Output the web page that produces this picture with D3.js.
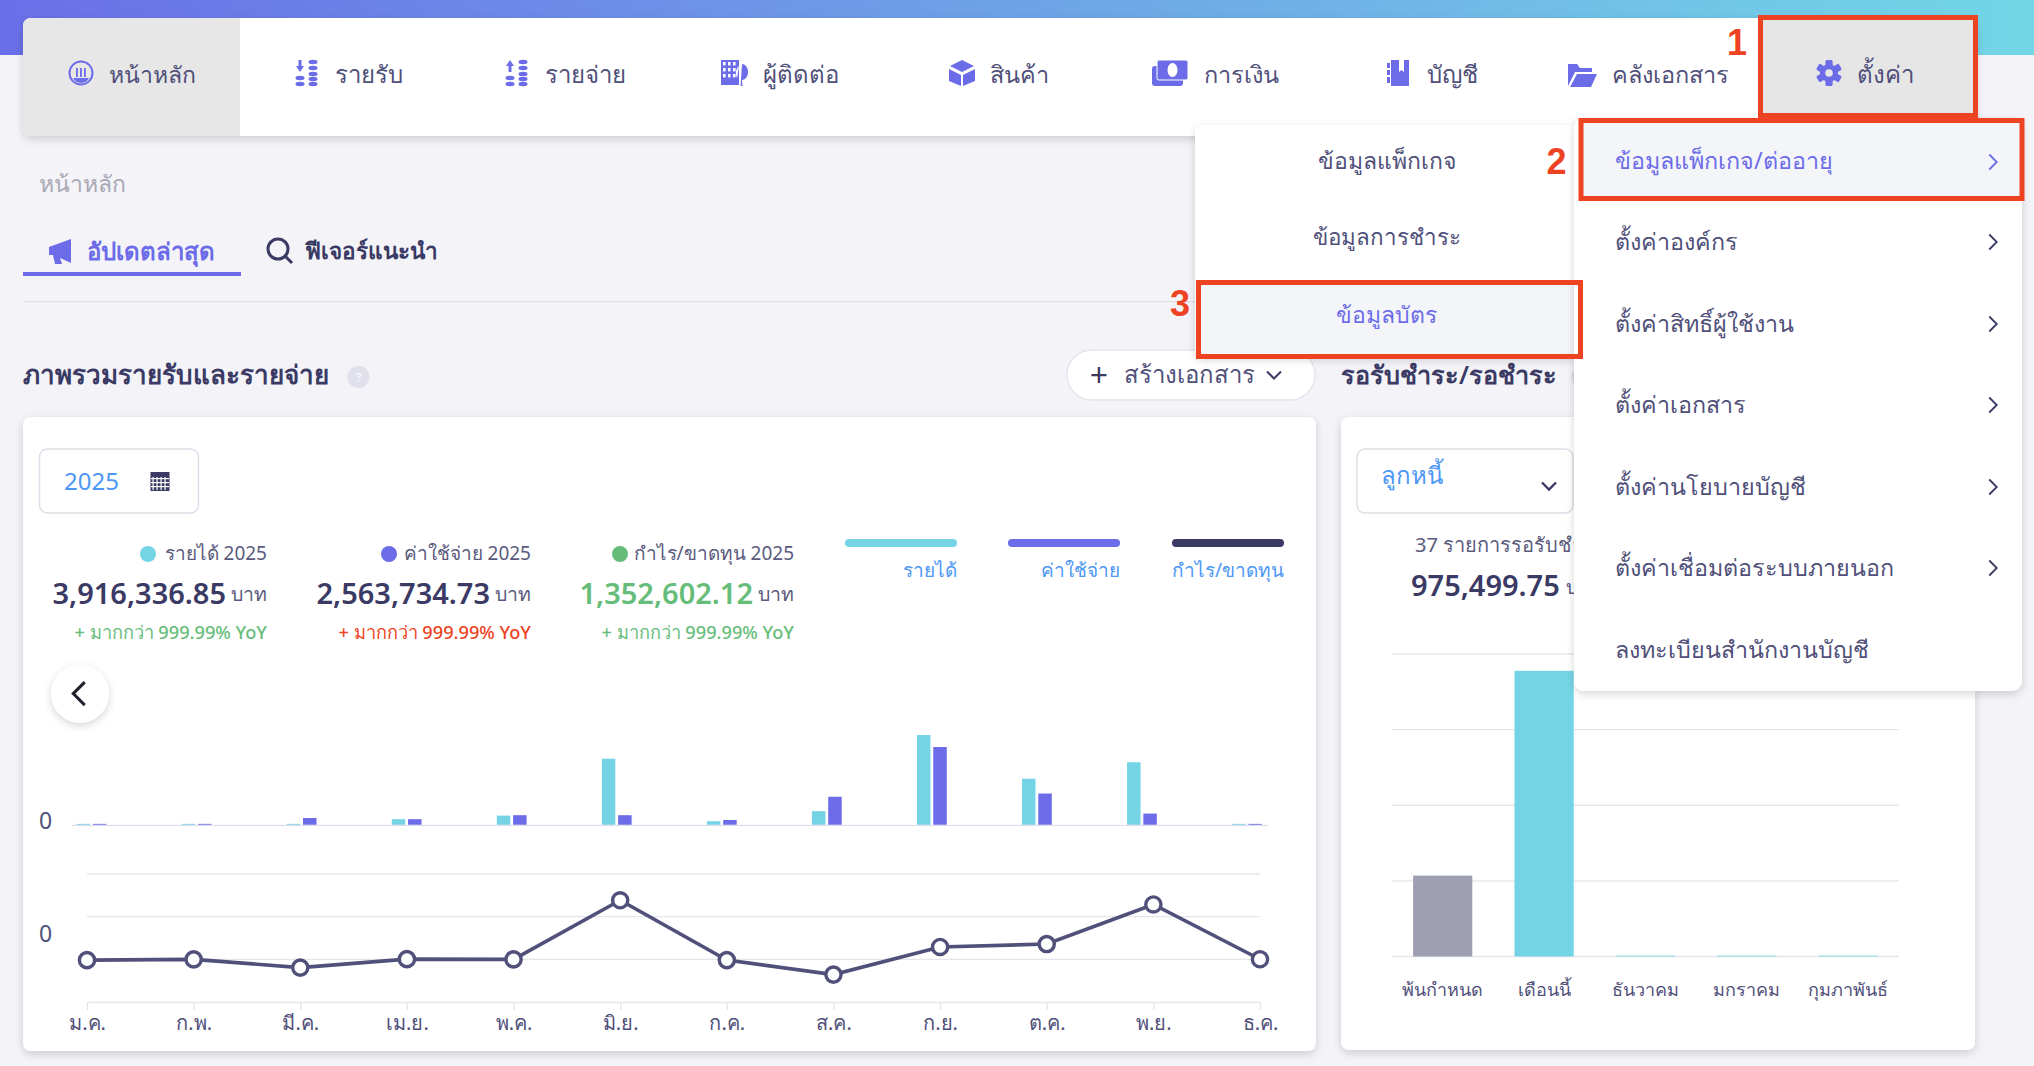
<!DOCTYPE html>
<html>
<head>
<meta charset="utf-8">
<script src="https://cdn.jsdelivr.net/npm/d3@7"></script>
<style>
  body { margin: 0; background: #f3f3f8; }
  text { font-family: "Noto Sans", sans-serif; dominant-baseline: central; }
  .tickline line, .tickline path { stroke: #e6e6ea; stroke-width: 1.4; }
</style>
</head>
<body>
<div id="page"></div>
<script>
// chart values (baht)
const months = ["ม.ค.", "ก.พ.", "มี.ค.", "เม.ย.", "พ.ค.", "มิ.ย.", "ก.ค.", "ส.ค.", "ก.ย.", "ต.ค.", "พ.ย.", "ธ.ค."];
const income = [27000, 27000, 27000, 85000, 130000, 840000, 60000, 185000, 1135000, 590000, 795000, 27000];
const expense = [27000, 27000, 100000, 85000, 135000, 135000, 75000, 365000, 985000, 405000, 155000, 27000];
const profit = [-9700, 0, -97000, 2000, -1000, 692000, -9000, -179000, 145000, 179000, 643000, 1000];
const profitTicks = [0, 500000, 1000000];

const agingLabels = ["พ้นกำหนด", "เดือนนี้", "ธันวาคม", "มกราคม", "กุมภาพันธ์"];
const agingValues = [214000, 755500, 2000, 2000, 2000];
const agingTicks = [0, 200000, 400000, 600000, 800000];

const navLabels = ["หน้าหลัก", "รายรับ", "รายจ่าย", "ผู้ติดต่อ", "สินค้า", "การเงิน", "บัญชี", "คลังเอกสาร", "ตั้งค่า"];
const navTextX = [109, 335, 545, 763, 990, 1204, 1427, 1612, 1857];
const navTextSize = [23, 24, 24, 24, 23.5, 23.5, 24, 23.5, 24];
const menuLeft = ["ข้อมูลแพ็กเกจ", "ข้อมูลการชำระ", "ข้อมูลบัตร"];
const menuRight = ["ข้อมูลแพ็กเกจ/ต่ออายุ", "ตั้งค่าองค์กร", "ตั้งค่าสิทธิ์ผู้ใช้งาน", "ตั้งค่าเอกสาร", "ตั้งค่านโยบายบัญชี", "ตั้งค่าเชื่อมต่อระบบภายนอก", "ลงทะเบียนสำนักงานบัญชี"];
const kpiLabels = ["รายได้ 2025", "ค่าใช้จ่าย 2025", "กำไร/ขาดทุน 2025"];
const kpiValues = ["3,916,336.85", "2,563,734.73", "1,352,602.12"];
const legendLabels = ["รายได้", "ค่าใช้จ่าย", "กำไร/ขาดทุน"];

const CYAN = "#74d4e6", PURPLE = "#6c6ce8", NAVY = "#3a3a64", SLATE = "#50507a",
      GREEN = "#66bd7a", RED = "#ee4323", BLUE = "#4d97f5";

let svg = d3.select("#page").append("svg")
    .attr("width", 2034).attr("height", 1066)
    .style("display", "block");

let defs = svg.append("defs");
let grad = defs.append("linearGradient").attr("id", "topGrad");
grad.append("stop").attr("offset", "0%").attr("stop-color", "#6a6fe8");
grad.append("stop").attr("offset", "100%").attr("stop-color", "#72d6e6");
let shadow = defs.append("filter").attr("id", "shadow")
    .attr("x", "-10%").attr("y", "-10%").attr("width", "120%").attr("height", "125%");
shadow.append("feDropShadow").attr("dx", 0).attr("dy", 3).attr("stdDeviation", 4)
    .attr("flood-color", "#000").attr("flood-opacity", 0.16);

function label(parent, x, y, str, size, color, weight, anchor) {
  return parent.append("text")
      .attr("x", x).attr("y", y)
      .attr("font-size", size)
      .attr("fill", color)
      .attr("font-weight", weight || 400)
      .attr("text-anchor", anchor || "start")
      .text(str);
}

function box(parent, x, y, w, h, r, fill) {
  return parent.append("rect")
      .attr("x", x).attr("y", y).attr("width", w).attr("height", h)
      .attr("rx", r).attr("fill", fill);
}

function chevron(parent, x, y, dir, size, color, width) {
  let d = {
    right: `M${x - size / 2},${y - size} L${x + size / 2},${y} L${x - size / 2},${y + size}`,
    left: `M${x + size / 2},${y - size} L${x - size / 2},${y} L${x + size / 2},${y + size}`,
    down: `M${x - size},${y - size / 2} L${x},${y + size / 2} L${x + size},${y - size / 2}`
  }[dir];
  parent.append("path").attr("d", d).attr("fill", "none")
      .attr("stroke", color).attr("stroke-width", width);
}

// background + nav bar
box(svg, 0, 0, 2034, 55, 0, "url(#topGrad)");
box(svg, 23, 18, 1953, 118, 8, "#fff").attr("filter", "url(#shadow)");
svg.append("path").attr("d", "M240,18 H31 A8,8 0 0 0 23,26 V128 A8,8 0 0 0 31,136 H240 Z").attr("fill", "#e7e7e7");
box(svg, 1762, 20, 212, 96, 0, "#e6e6e6");

navLabels.forEach(function(d, i) {
  label(svg, navTextX[i], 73.5, d, navTextSize[i], "#50507a");
});

// nav icons, rough drawings of the originals
let navIcons = svg.append("g").attr("fill", PURPLE);
function stackIcon(cx, up) {
  let g = navIcons.append("g").attr("transform", `translate(${cx},73)`);
  [[-7, 5], [-7, 11], [6, -11], [6, -5], [6, 1], [6, 6], [6, 11]].forEach(function(p) {
    g.append("ellipse").attr("cx", p[0]).attr("cy", p[1]).attr("rx", 4.5).attr("ry", 2.2);
  });
  g.append("path").attr("d", up ? "M-7,-13 L-11,-7 H-8.5 V-1 H-5.5 V-7 H-3 Z" : "M-7,-1 L-11,-7 H-8.5 V-13 H-5.5 V-7 H-3 Z");
}
let homeIcon = navIcons.append("g").attr("transform", "translate(81,73)");
homeIcon.append("circle").attr("r", 11.5).attr("fill", "none").attr("stroke", PURPLE).attr("stroke-width", 2);
homeIcon.append("path").attr("d", "M-8,5 A9,9 0 0 0 8,5 Z");
homeIcon.selectAll("rect").data([-5, -1, 3]).enter().append("rect")
    .attr("x", d => d).attr("y", -5).attr("width", 1.8).attr("height", 9);
stackIcon(307, false);
stackIcon(517, true);
let contactIcon = navIcons.append("g").attr("transform", "translate(734,73)");
contactIcon.append("path").attr("d", "M-13,-13 H5 V12 H-13 Z M8,-9 A6,8 0 0 1 8,7 L8.5,13 H6.5 L7,7 Z M5,-7 A6,8 0 0 0 3,5 Z");
d3.range(3).forEach(function(r) {
  d3.range(3).forEach(function(c) {
    contactIcon.append("rect").attr("x", -11 + c * 5).attr("y", -11 + r * 6)
        .attr("width", 2.6).attr("height", 3.4).attr("fill", "#fff");
  });
});
navIcons.append("path").attr("transform", "translate(962,73)")
    .attr("d", "M0,-13 L12,-7 L0,-1 L-12,-7 Z M-13,-4 L-1,2 V13 L-13,8 Z M13,-4 L1,2 V13 L13,8 Z");
let moneyIcon = navIcons.append("g").attr("transform", "translate(1170,73)");
moneyIcon.append("rect").attr("x", -18).attr("y", -7).attr("width", 31).attr("height", 20).attr("rx", 3);
moneyIcon.append("rect").attr("x", -13).attr("y", -13).attr("width", 31).attr("height", 20).attr("rx", 2).attr("stroke", "#fff");
moneyIcon.append("ellipse").attr("cx", 2.5).attr("cy", -3).attr("rx", 5).attr("ry", 7).attr("fill", "#fff");
let bookIcon = navIcons.append("g").attr("transform", "translate(1398,73)");
bookIcon.append("path").attr("d", "M-7,-13 H11 V13 H-7 Z M-11,-10 H-8 V-5 H-11 Z M-11,-3 H-8 V2 H-11 Z M-11,4 H-8 V10 H-11 Z");
bookIcon.append("path").attr("d", "M1,-13 H6 V-1 L3.5,-3 L1,-1 Z").attr("fill", "#fff");
navIcons.append("path").attr("transform", "translate(1582,75)")
    .attr("d", "M-14,-11 H-5 L-2,-7 H10 V-3 H-7 L-14,11 Z M-5,-1 H15 L9,12 H-12 Z");
let gear = navIcons.append("g").attr("transform", "translate(1829,73)");
[0, 60, 120].forEach(function(a) {
  gear.append("rect").attr("x", -3.6).attr("y", -13).attr("width", 7.2).attr("height", 26)
      .attr("rx", 1.5).attr("transform", `rotate(${a})`);
});
gear.append("circle").attr("r", 9);
gear.append("circle").attr("r", 3.8).attr("fill", "#e6e6e6");

// breadcrumb + tabs
label(svg, 39, 182.5, "หน้าหลัก", 23, "#a9a9b5");
label(svg, 87, 250, "อัปเดตล่าสุด", 24, PURPLE, 600);
label(svg, 305, 250, "ฟีเจอร์แนะนำ", 22.5, NAVY, 600);
svg.append("path").attr("transform", "translate(61,251)")
    .attr("d", "M-12,-4 L10,-12 V12 L-1,7 L1,13 H-6 L-8,4 H-12 Z").attr("fill", PURPLE);
let searchIcon = svg.append("g").attr("transform", "translate(279,250)").attr("fill", "none").attr("stroke", NAVY).attr("stroke-width", 3);
searchIcon.append("circle").attr("cx", -1).attr("cy", -1).attr("r", 10);
searchIcon.append("path").attr("d", "M6,6 L13,13");
box(svg, 23, 272, 218, 4, 0, PURPLE);
box(svg, 23, 301, 1953, 1.4, 0, "#e0e0e6");

// section titles
label(svg, 23, 373.5, "ภาพรวมรายรับและรายจ่าย", 26, NAVY, 600);
svg.append("ellipse").attr("cx", 358.5).attr("cy", 377).attr("rx", 11).attr("ry", 11).attr("fill", "#dfe0ea");
label(svg, 358.5, 377, "?", 13, "#f3f3f8", 700, "middle");
box(svg, 1067, 350, 248, 50, 25, "#fff").attr("stroke", "#e4e4ec").attr("stroke-width", 1.4);
label(svg, 1099, 374, "+", 32, NAVY, 400, "middle");
label(svg, 1124, 373.5, "สร้างเอกสาร", 24, "#50507a");
chevron(svg, 1274, 375, "down", 7, NAVY, 2);
label(svg, 1341, 373.5, "รอรับชำระ/รอชำระ", 25.2, NAVY, 600);
svg.append("circle").attr("cx", 1582).attr("cy", 377).attr("r", 11).attr("fill", "#dfe0ea");

// left card
box(svg, 23, 417, 1293, 634, 8, "#fff").attr("filter", "url(#shadow)");
box(svg, 39.5, 449, 159, 64, 8, "#fff").attr("stroke", "#dedee8").attr("stroke-width", 1.4);
label(svg, 64, 480, "2025", 24, BLUE);
let cal = svg.append("g").attr("transform", "translate(160,481)");
box(cal, -9.5, -9, 19, 19, 0, NAVY);
d3.range(4).forEach(function(i) {
  cal.append("rect").attr("x", -7.5 + i * 4).attr("y", -4).attr("width", 1.2).attr("height", 13).attr("fill", "#fff");
});
d3.range(3).forEach(function(i) {
  cal.append("rect").attr("x", -9).attr("y", -3 + i * 4).attr("width", 18).attr("height", 1.2).attr("fill", "#fff");
});

// summary figures
const kpiRight = [267, 531, 794], kpiDot = [148, 389, 620], kpiDotColor = [CYAN, PURPLE, GREEN];
kpiLabels.forEach(function(d, i) {
  svg.append("circle").attr("cx", kpiDot[i]).attr("cy", 554).attr("r", 8).attr("fill", kpiDotColor[i]);
  label(svg, kpiRight[i], 553, d, 19, "#5b5b7d", 400, "end");
  let unit = label(svg, kpiRight[i], 593.5, "บาท", 19.5, "#5b5b7d", 400, "end");
  let valueX = kpiRight[i] - unit.node().getComputedTextLength() - 5;
  label(svg, valueX, 592, kpiValues[i], 29, i == 2 ? GREEN : NAVY, 600, "end");
  label(svg, kpiRight[i], 632.4, "+ มากกว่า 999.99% YoY", 18.2, i == 1 ? RED : GREEN, 500, "end");
});

const legendX = [845, 1008, 1172], legendColor = [CYAN, PURPLE, NAVY];
legendLabels.forEach(function(d, i) {
  box(svg, legendX[i], 539, 112, 8, 4, legendColor[i]);
  label(svg, legendX[i] + 112, 570, d, 19, BLUE, 400, "end");
});

// bars
let xBand = d3.scaleBand().domain(months).range([39, 1299.5]);
let yBar = d3.scaleLinear().domain([0, 1135000]).range([825.4, 734.4]);
const barW = 14.7;

function drawBars(values, color, offset) {
  svg.append("g").selectAll("rect")
      .data(values)
      .enter()
      .append("rect")
      .attr("x", (d, i) => xBand(months[i]) + xBand.bandwidth() / 2 + offset)
      .attr("y", d => yBar(d))
      .attr("width", barW)
      .attr("height", d => yBar(0) - yBar(d))
      .attr("fill", color)
      .attr("stroke", "#fff")
      .attr("stroke-width", 1.2);
}
drawBars(income, CYAN, -barW - 0.8);
drawBars(expense, PURPLE, 0.8);
svg.append("line").attr("x1", 71.5).attr("x2", 1268).attr("y1", 825.4).attr("y2", 825.4)
    .attr("stroke", "#d8d8ea").attr("stroke-width", 1);
label(svg, 45.5, 819.5, "0", 23, "#50507a", 400, "middle");

// back button sits over the chart
svg.append("circle").attr("cx", 80).attr("cy", 693.6).attr("r", 29).attr("fill", "#fff").attr("filter", "url(#shadow)");
chevron(svg, 79, 693.6, "left", 11.5, "#20202a", 3);

// profit line
let xPoint = d3.scalePoint().domain(months).range([87, 1260]);
let yLine = d3.scaleLinear().domain([-500000, 1000000]).range([1002, 874]);

let grid = svg.append("g").attr("class", "tickline");
grid.selectAll("line").data(profitTicks).enter().append("line")
    .attr("x1", xPoint.range()[0]).attr("x2", xPoint.range()[1])
    .attr("y1", d => yLine(d)).attr("y2", d => yLine(d));

let xAxis = svg.append("g").attr("class", "tickline")
    .attr("transform", "translate(0,1002)")
    .call(d3.axisBottom(xPoint).tickSize(8).tickSizeOuter(0).tickPadding(8));
xAxis.selectAll("text").attr("font-size", 20).attr("fill", "#50507a")
    .style("font-family", '"Noto Sans", sans-serif').attr("dy", 0).attr("y", 20);

label(svg, 45.5, 933, "0", 23, "#50507a", 400, "middle");

svg.append("path").datum(profit)
    .attr("fill", "none").attr("stroke", SLATE).attr("stroke-width", 3.6)
    .attr("d", d3.line().x((d, i) => xPoint(months[i])).y(d => yLine(d)));
svg.append("g").selectAll("circle").data(profit).enter().append("circle")
    .attr("cx", (d, i) => xPoint(months[i])).attr("cy", d => yLine(d))
    .attr("r", 7.6).attr("fill", "#fff").attr("stroke", SLATE).attr("stroke-width", 3.4);

// right card
box(svg, 1341, 417, 634, 633, 8, "#fff").attr("filter", "url(#shadow)");
box(svg, 1357, 449, 216, 64, 8, "#fff").attr("stroke", "#dedee8").attr("stroke-width", 1.4);
label(svg, 1380.5, 474, "ลูกหนี้", 24, BLUE);
chevron(svg, 1549, 486, "down", 7, NAVY, 2.4);
label(svg, 1415, 544, "37 รายการรอรับชำระ", 20, "#5b5b7d");
let agingTotal = label(svg, 1411, 584, "975,499.75", 29, NAVY, 600);
label(svg, 1411 + agingTotal.node().getComputedTextLength() + 6, 586, "บาท", 19.5, "#5b5b7d");

let xAging = d3.scaleBand().domain(agingLabels).range([1392, 1899]).paddingInner(0.416).paddingOuter(0.208);
let yAging = d3.scaleLinear().domain([0, 800000]).range([956.5, 654]);

svg.append("g").attr("class", "tickline").selectAll("line").data(agingTicks).enter().append("line")
    .attr("x1", 1392).attr("x2", 1899)
    .attr("y1", d => yAging(d)).attr("y2", d => yAging(d));

svg.append("g").selectAll("rect").data(agingValues).enter().append("rect")
    .attr("x", (d, i) => xAging(agingLabels[i]))
    .attr("y", d => yAging(d))
    .attr("width", xAging.bandwidth())
    .attr("height", d => yAging(0) - yAging(d))
    .attr("fill", (d, i) => i == 0 ? "#9e9fb3" : CYAN);

agingLabels.forEach(function(d) {
  label(svg, xAging(d) + xAging.bandwidth() / 2, 988.6, d, 18, "#50507a", 400, "middle");
});

// dropdown menus on top of everything
box(svg, 1195, 125, 384, 232, 8, "#fff").attr("filter", "url(#shadow)");
box(svg, 1199, 283, 381, 73, 0, "#f4f5f9");
const menuLeftY = [160, 236.5, 313.5];
menuLeft.forEach(function(d, i) {
  label(svg, 1386.6, menuLeftY[i], d, i == 1 ? 22.4 : 23, i == 2 ? PURPLE : "#50507a", 400, "middle");
});

box(svg, 1574, 118, 448, 573, 10, "#fff").attr("filter", "url(#shadow)");
box(svg, 1581, 121, 441, 77, 0, "#f4f5f9");
const menuRightY = [159.5, 240.5, 322.5, 403.5, 485.5, 566.5, 649];
const menuChevronY = [162, 242, 324, 405, 487, 568];
menuRight.forEach(function(d, i) {
  label(svg, 1615, menuRightY[i], d, 23.3, i == 0 ? PURPLE : "#50507a");
  if (i < 6) chevron(svg, 1993, menuChevronY[i], "right", 7.5, i == 0 ? PURPLE : NAVY, 1.8);
});

// red annotation boxes
const redBoxes = [[1760.5, 17.5, 215, 98], [1581, 120.5, 441, 78], [1198.5, 282.5, 382, 74]];
redBoxes.forEach(function(b) {
  svg.append("rect").attr("x", b[0]).attr("y", b[1]).attr("width", b[2]).attr("height", b[3])
      .attr("fill", "none").attr("stroke", RED).attr("stroke-width", 5);
});
[["1", 1737, 42], ["2", 1556.5, 161], ["3", 1180, 303]].forEach(function(n) {
  label(svg, n[1], n[2], n[0], 36, RED, 700, "middle")
      .style("font-family", '"Liberation Sans", sans-serif');
});
</script>
</body>
</html>
